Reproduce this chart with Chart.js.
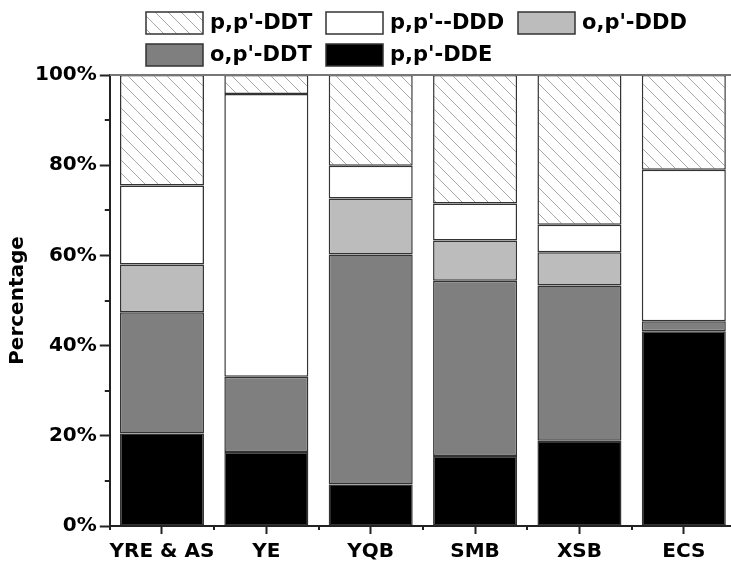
<!DOCTYPE html>
<html>
<head>
<meta charset="utf-8">
<script src="https://cdn.jsdelivr.net/npm/chart.js@4.4.1/dist/chart.umd.min.js"></script>
<style>
  html, body { margin: 0; padding: 0; background: #fff; overflow: hidden; }
  #wrap { width: 740px; height: 570px; }
</style>
</head>
<body>
<div id="wrap"><canvas id="chartCanvas"></canvas></div>
<script>
// data (percent of each segment, bottom to top)
const categories = ['YRE & AS', 'YE', 'YQB', 'SMB', 'XSB', 'ECS'];
const ppDDE = [20.5, 16.4, 9.2, 15.5, 18.9, 43.2];
const opDDT = [26.9, 16.7, 51.0, 38.9, 34.4, 2.2];
const opDDD = [10.6, 0, 12.4, 8.9, 7.4, 0];
const ppDDD = [17.5, 62.7, 7.3, 8.2, 6.1, 33.6];
const ppDDT = [24.5, 4.2, 20.1, 28.5, 33.2, 21.0];
const yTicks = [0, 20, 40, 60, 80, 100];

const FONT = "'DejaVu Sans', sans-serif";

function hatch() {
    const c = document.createElement('canvas');
    c.width = 13; c.height = 13;
    const g = c.getContext('2d');
    g.fillStyle = '#fff';
    g.fillRect(0, 0, 13, 13);
    g.strokeStyle = '#a8a8a8';
    g.lineWidth = 1;
    g.beginPath();
    g.moveTo(-1, -1); g.lineTo(14, 14);
    g.moveTo(-7.5, 5.5); g.lineTo(7.5, 20.5);
    g.moveTo(5.5, -7.5); g.lineTo(20.5, 7.5);
    g.stroke();
    return g.createPattern(c, 'repeat');
}

const nz = arr => arr.map(v => v === 0 ? null : v);

const seg = (label, data, fill) => ({
    label: label,
    data: nz(data),
    backgroundColor: fill,
    borderColor: '#333',
    borderWidth: 1.5,
    borderSkipped: false,
    barPercentage: 0.805,
    categoryPercentage: 1
});

const datasets = [
    seg("p,p'-DDE", ppDDE, '#000000'),
    seg("o,p'-DDT", opDDT, '#7f7f7f'),
    seg("o,p'-DDD", opDDD, '#bcbcbc'),
    seg("p,p'--DDD", ppDDD, '#ffffff'),
    seg("p,p'-DDT", ppDDT, hatch())
];

// legend order and placement as in the figure
const legendSlots = [
    { ds: 4, x: 146, y: 12 },
    { ds: 3, x: 326, y: 12 },
    { ds: 2, x: 518, y: 12 },
    { ds: 1, x: 146, y: 44 },
    { ds: 0, x: 326, y: 44 }
];

const extras = {
    id: 'extras',
    afterDraw(chart) {
        const ctx = chart.ctx;
        const area = chart.chartArea;
        const x = chart.scales.x, y = chart.scales.y;
        ctx.save();
        // top frame line
        ctx.strokeStyle = '#777';
        ctx.lineWidth = 2;
        ctx.beginPath();
        ctx.moveTo(area.left, area.top);
        ctx.lineTo(area.right, area.top);
        ctx.stroke();
        // minor ticks
        ctx.strokeStyle = '#222';
        ctx.lineWidth = 2;
        ctx.beginPath();
        for (let v = 10; v < 100; v += 20) {
            const py = Math.round(y.getPixelForValue(v));
            ctx.moveTo(area.left - 5, py);
            ctx.lineTo(area.left, py);
        }
        for (let i = 0; i <= categories.length; i++) {
            const px = Math.round(x.getPixelForValue(i - 0.5));
            ctx.moveTo(px, area.bottom);
            ctx.lineTo(px, area.bottom + 4);
        }
        ctx.stroke();
        // legend
        ctx.font = 'bold 21px ' + FONT;
        ctx.textBaseline = 'middle';
        ctx.fillStyle = '#000';
        legendSlots.forEach(s => {
            const d = chart.data.datasets[s.ds];
            ctx.fillStyle = d.backgroundColor;
            ctx.fillRect(s.x, s.y, 57, 22);
            ctx.strokeStyle = '#333';
            ctx.lineWidth = 1.5;
            ctx.strokeRect(s.x, s.y, 57, 22);
            ctx.fillStyle = '#000';
            ctx.fillText(d.label, s.x + 64, s.y + 12);
        });
        ctx.restore();
    }
};

new Chart(document.getElementById('chartCanvas').getContext('2d'), {
    type: 'bar',
    data: { labels: categories, datasets: datasets },
    options: {
        responsive: true,
        maintainAspectRatio: false,
        animation: false,
        layout: { padding: { top: 75, left: 6, right: 4, bottom: 0 } },
        plugins: { legend: { display: false }, tooltip: { enabled: false } },
        scales: {
            x: {
                stacked: true,
                offset: true,
                grid: { offset: false, drawOnChartArea: false, tickLength: 8, tickColor: '#222', tickWidth: 2 },
                border: { color: '#222', width: 2 },
                ticks: { color: '#000', padding: 6, maxRotation: 0, minRotation: 0, autoSkip: false,
                         font: { family: FONT, weight: 'bold', size: 20 } }
            },
            y: {
                stacked: true,
                min: 0,
                max: 100,
                afterBuildTicks: s => { s.ticks = yTicks.map(v => ({ value: v })); },
                grid: { drawOnChartArea: false, tickLength: 10, tickColor: '#222', tickWidth: 2 },
                border: { color: '#222', width: 2 },
                ticks: { color: '#000', padding: 3, font: { family: FONT, weight: 'bold', size: 20 }, callback: v => v + '%' },
                title: { display: true, text: 'Percentage', color: '#000', padding: { top: 0, bottom: 2 }, font: { family: FONT, weight: 'bold', size: 20 } }
            }
        }
    },
    plugins: [extras]
});
</script>
</body>
</html>
